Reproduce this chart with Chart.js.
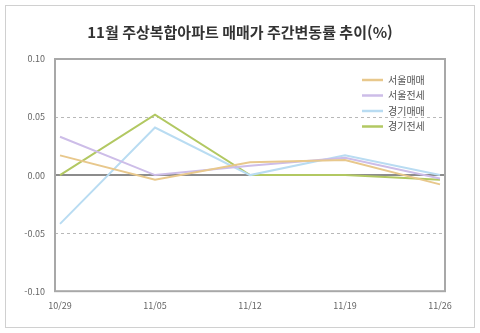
<!DOCTYPE html>
<html lang="ko">
<head>
<meta charset="UTF-8">
<title>11월 주상복합아파트 매매가 주간변동률 추이(%)</title>
<script src="https://cdn.jsdelivr.net/npm/chart.js"></script>
<style>
    body {
        margin: 0;
        padding: 0;
        background: #fff;
        font-family: 'Noto Sans CJK KR', 'Noto Sans', sans-serif;
    }
    .frame {
        position: absolute;
        left: 5px;
        top: 5px;
        width: 468px;
        height: 321px;
        border: 1px solid #d0d0d0;
    }
    .wrap {
        position: absolute;
        left: 0;
        top: 0;
        width: 480px;
        height: 333px;
    }
</style>
</head>
<body>
<div class="frame"></div>
<div class="wrap"><canvas id="rateChart" width="480" height="333"></canvas></div>

<script>
    const chartTitle = '11월 주상복합아파트 매매가 주간변동률 추이(%)';

    // 주간 날짜
    const weeks = ['10/29', '11/05', '11/12', '11/19', '11/26'];

    // 주간변동률 (%)
    const seoulSale   = [0.017, -0.004, 0.011, 0.013, -0.008];
    const seoulJeonse = [0.033,  0.000, 0.008, 0.015, -0.003];
    const ggSale      = [-0.042, 0.041, 0.000, 0.017,  0.000];
    const ggJeonse    = [0.000,  0.052, 0.000, 0.000, -0.004];

    const seriesNames = ['서울매매', '서울전세', '경기매매', '경기전세'];
    const seriesColors = ['#e8c88c', '#cdbde8', '#b9dcf2', '#b2c862'];

    const yTicks = [-0.10, -0.05, 0.00, 0.05, 0.10];

    const KFONT = "'Noto Sans CJK KR', 'Noto Sans', sans-serif";
    const EDGE = 5; // 테두리가 첫/끝 점보다 바깥쪽

    // 제목 (캔버스 가운데)
    const titlePlugin = {
        id: 'centerTitle',
        afterDraw(chart) {
            const { ctx, width } = chart;
            ctx.save();
            ctx.font = 'bold 15px ' + KFONT;
            ctx.fillStyle = '#333';
            ctx.textAlign = 'center';
            ctx.textBaseline = 'middle';
            ctx.fillText(chartTitle, width / 2, 32);
            ctx.restore();
        }
    };

    // 0 기준선, ±0.05 점선, 그림 영역 테두리
    const framePlugin = {
        id: 'frameLines',
        beforeDatasetsDraw(chart) {
            const { ctx, chartArea: a, scales } = chart;
            const L = a.left - EDGE, R = a.right + EDGE;
            ctx.save();
            ctx.strokeStyle = '#b8b8b8';
            ctx.lineWidth = 1;
            ctx.setLineDash([3, 3]);
            [0.05, -0.05].forEach(v => {
                const y = Math.round(scales.y.getPixelForValue(v)) + 0.5;
                ctx.beginPath();
                ctx.moveTo(L, y);
                ctx.lineTo(R, y);
                ctx.stroke();
            });
            ctx.setLineDash([]);
            const y0 = scales.y.getPixelForValue(0);
            ctx.strokeStyle = '#8c8c8c';
            ctx.lineWidth = 2;
            ctx.beginPath();
            ctx.moveTo(L, y0);
            ctx.lineTo(R, y0);
            ctx.stroke();
            ctx.restore();
        },
        afterDraw(chart) {
            const { ctx, chartArea: a } = chart;
            ctx.save();
            ctx.strokeStyle = '#a8a8a8';
            ctx.lineWidth = 2;
            ctx.strokeRect(a.left - EDGE, a.top, a.right - a.left + 2 * EDGE, a.bottom - a.top);
            ctx.restore();
        }
    };

    // 그림 안쪽 범례
    const insideLegend = {
        id: 'insideLegend',
        afterDraw(chart) {
            const { ctx } = chart;
            const x0 = 362, y0 = 80, gap = 15.5;
            ctx.save();
            ctx.font = '10px ' + KFONT;
            ctx.textBaseline = 'middle';
            chart.data.datasets.forEach((ds, i) => {
                const y = y0 + i * gap;
                ctx.strokeStyle = ds.borderColor;
                ctx.lineWidth = 2.5;
                ctx.beginPath();
                ctx.moveTo(x0, y);
                ctx.lineTo(x0 + 21, y);
                ctx.stroke();
                ctx.fillStyle = '#555';
                ctx.fillText(ds.label, x0 + 26, y);
            });
            ctx.restore();
        }
    };

    const datasets = [seoulSale, seoulJeonse, ggSale, ggJeonse].map((vals, i) => ({
        label: seriesNames[i],
        data: vals,
        borderColor: seriesColors[i],
        backgroundColor: seriesColors[i],
        borderWidth: 2,
        pointRadius: 0,
        tension: 0,
        fill: false,
        clip: 6
    }));

    new Chart(document.getElementById('rateChart'), {
        type: 'line',
        data: { labels: weeks, datasets: datasets },
        options: {
            responsive: false,
            animation: false,
            layout: { padding: { left: 0, right: 40, top: 59, bottom: 13 } },
            plugins: {
                legend: { display: false },
                tooltip: { enabled: false },
                title: { display: false }
            },
            scales: {
                x: {
                    offset: false,
                    grid: { display: false, drawTicks: false },
                    border: { display: false },
                    ticks: {
                        color: '#666',
                        font: { family: KFONT, size: 9 },
                        padding: 9,
                        maxRotation: 0
                    }
                },
                y: {
                    min: -0.1,
                    max: 0.1,
                    afterFit(scale) { scale.width = 60; },
                    afterBuildTicks(scale) {
                        scale.ticks = yTicks.map(v => ({ value: v }));
                    },
                    border: { display: false },
                    grid: { display: false, drawTicks: false },
                    ticks: {
                        color: '#666',
                        font: { family: KFONT, size: 9 },
                        padding: 15,
                        callback: v => Number(v).toFixed(2)
                    }
                }
            }
        },
        plugins: [framePlugin, insideLegend, titlePlugin]
    });
</script>
</body>
</html>
